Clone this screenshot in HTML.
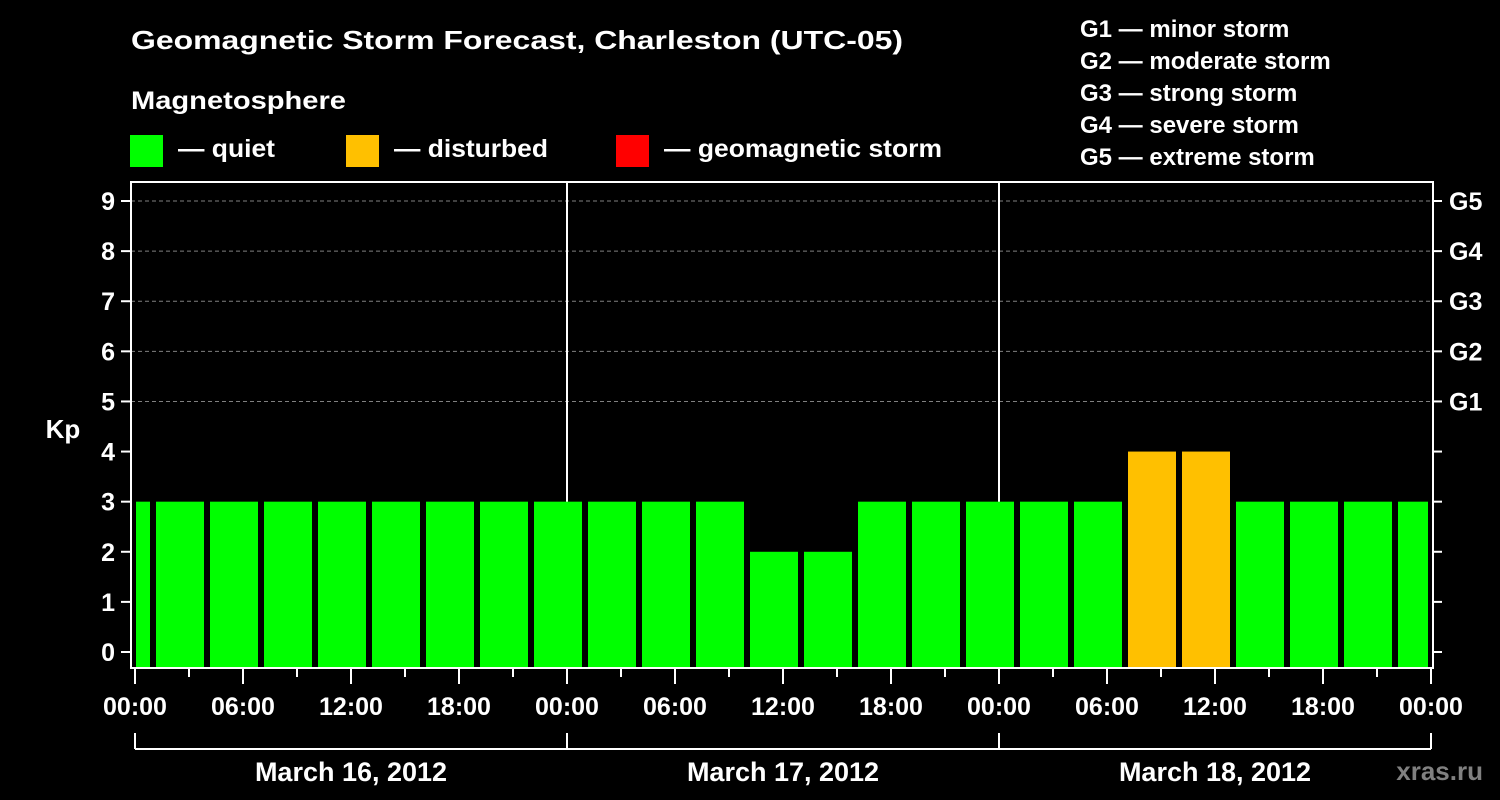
<!DOCTYPE html>
<html><head><meta charset="utf-8"><style>
html,body{margin:0;padding:0;background:#000;width:1500px;height:800px;overflow:hidden}
svg{display:block}
text{font-family:"Liberation Sans",Arial,sans-serif;font-weight:bold;fill:#fff}
</style></head><body>
<svg id="chart" width="1500" height="800" viewBox="0 0 1500 800" xmlns="http://www.w3.org/2000/svg">
<rect width="1500" height="800" fill="#000"/>
<text x="131" y="49" font-size="26" textLength="772" lengthAdjust="spacingAndGlyphs">Geomagnetic Storm Forecast, Charleston (UTC-05)</text>
<text x="131" y="109" font-size="25" textLength="215" lengthAdjust="spacingAndGlyphs">Magnetosphere</text>
<g>
<rect x="130" y="135" width="33" height="32" fill="#00ff00"/>
<text x="178" y="157" font-size="25" textLength="97" lengthAdjust="spacingAndGlyphs">— quiet</text></g>
<g>
<rect x="346" y="135" width="33" height="32" fill="#ffc000"/>
<text x="394" y="157" font-size="25" textLength="154" lengthAdjust="spacingAndGlyphs">— disturbed</text></g>
<g>
<rect x="616" y="135" width="33" height="32" fill="#ff0000"/>
<text x="664" y="157" font-size="25" textLength="278" lengthAdjust="spacingAndGlyphs">— geomagnetic storm</text></g>
<g font-size="24">
<text x="1080" y="37">G1 — minor storm</text>
<text x="1080" y="69">G2 — moderate storm</text>
<text x="1080" y="101">G3 — strong storm</text>
<text x="1080" y="133">G4 — severe storm</text>
<text x="1080" y="165">G5 — extreme storm</text>
</g>
<text x="63" y="438" font-size="26" text-anchor="middle">Kp</text>
<g id="grid"></g>
<g id="bars"></g>
<g id="axes"></g>
<text x="1483" y="780" font-size="26" fill="#808080" style="fill:#808080" text-anchor="end">xras.ru</text>
</svg>
<script>
const kpValues = [3,3,3,3,3,3,3,3,3,3,3,3,2,2,3,3,3,3,3,4,4,3,3,3,3];
const barStartHours = [-2,1,4,7,10,13,16,19,22,25,28,31,34,37,40,43,46,49,52,55,58,61,64,67,70];
const yTicks = [0,1,2,3,4,5,6,7,8,9];
const gLabels = ["G1","G2","G3","G4","G5"];
const gLevels = [5,6,7,8,9];
const xTickLabels = ["00:00","06:00","12:00","18:00","00:00","06:00","12:00","18:00","00:00","06:00","12:00","18:00","00:00"];
const dateLabels = ["March 16, 2012","March 17, 2012","March 18, 2012"];

const NS="http://www.w3.org/2000/svg";
const L=131,R=1433,T=182,B=668,X0=135,PXH=18;
const xs=h=>X0+h*PXH;
const ys=v=>652-v*50.11;
function mk(tag,attrs,parent,txt){const e=document.createElementNS(NS,tag);for(const k in attrs)e.setAttribute(k,attrs[k]);if(txt!==undefined)e.textContent=txt;parent.appendChild(e);return e;}
const grid=document.getElementById('grid'),bars=document.getElementById('bars'),axes=document.getElementById('axes');
gLevels.forEach(v=>{const l=mk('line',{x1:L,x2:R,y1:ys(v),y2:ys(v),stroke:'#808080','stroke-width':1,'stroke-dasharray':'4,3'},grid);

});
for(let d=1;d<3;d++){const l=mk('line',{x1:xs(24*d),x2:xs(24*d),y1:T,y2:B,stroke:'#fff','stroke-width':2},grid);

}
kpValues.forEach((v,i)=>{
 let x1=xs(barStartHours[i])+3,x2=xs(barStartHours[i]+3)-3;
 x1=Math.max(x1,136);x2=Math.min(x2,1428);
 const c=v>=5?'#ff0000':(v>=4?'#ffc000':'#00ff00');
 const r=mk('rect',{x:x1,y:ys(v),width:x2-x1,height:667-ys(v),fill:c},bars);
 
 
});
mk('rect',{x:L,y:T,width:R-L,height:B-T,fill:'none',stroke:'#fff','stroke-width':2},axes);
yTicks.forEach(v=>{
 mk('line',{x1:121,x2:L,y1:ys(v),y2:ys(v),stroke:'#fff','stroke-width':2},axes);
 mk('line',{x1:R,x2:R+9,y1:ys(v),y2:ys(v),stroke:'#fff','stroke-width':2},axes);
 const t=mk('text',{x:115,y:ys(v)+9,'font-size':25,'text-anchor':'end'},axes,String(v));
 
 
});
gLabels.forEach((g,i)=>{const t=mk('text',{x:1449,y:ys(gLevels[i])+9,'font-size':25},axes,g);
 
 });
for(let h=0;h<=72;h+=3){const major=h%6===0;mk('line',{x1:xs(h),x2:xs(h),y1:B,y2:major?684:677,stroke:'#fff','stroke-width':2},axes);}
xTickLabels.forEach((s,i)=>{const t=mk('text',{x:xs(i*6),y:715,'font-size':25,'text-anchor':'middle'},axes,s);
 
 });
mk('line',{x1:xs(0),x2:xs(72),y1:749,y2:749,stroke:'#fff','stroke-width':2},axes);
for(let d=0;d<=3;d++)mk('line',{x1:xs(24*d),x2:xs(24*d),y1:733,y2:749,stroke:'#fff','stroke-width':2},axes);
dateLabels.forEach((s,i)=>{const t=mk('text',{x:xs(24*i+12),y:781,'font-size':27,'text-anchor':'middle'},axes,s);
 
 });
</script>
</body></html>
